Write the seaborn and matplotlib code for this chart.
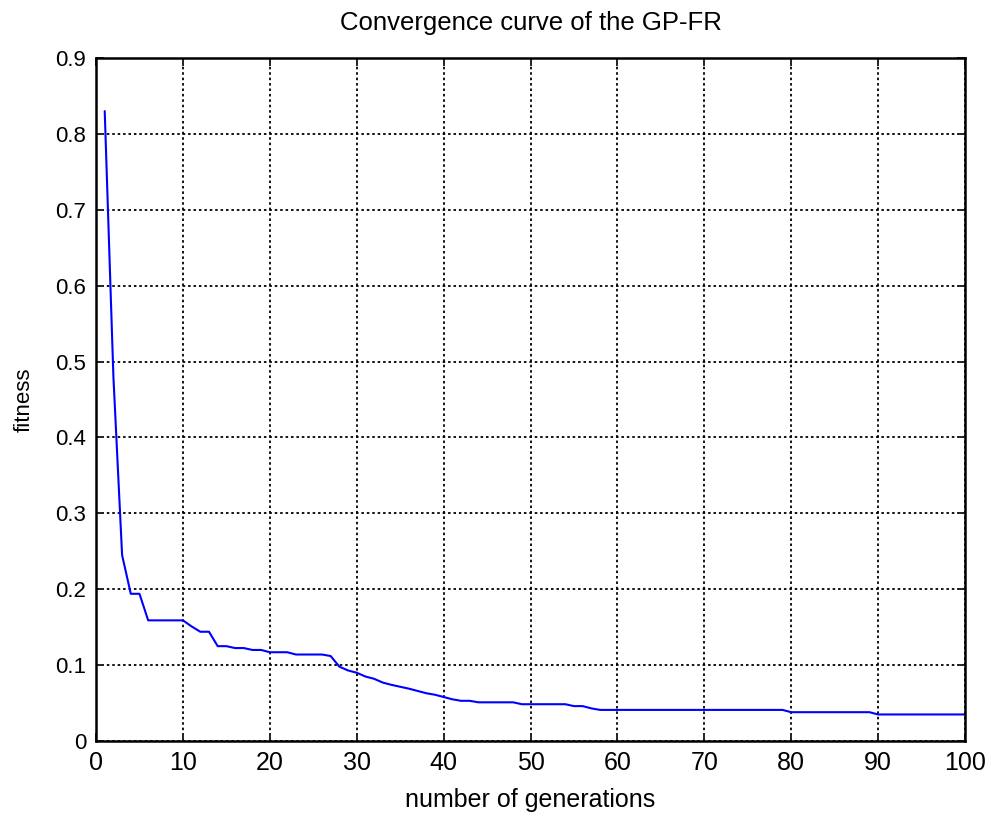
import pandas as pd
import matplotlib
matplotlib.use("Agg")
import matplotlib.pyplot as plt
import seaborn as sns

# Best fitness per generation
generations = list(range(1, 101))
fitness = [
    0.830, 0.480, 0.245, 0.194, 0.194, 0.159, 0.159, 0.159, 0.159, 0.159,
    0.151, 0.144, 0.144, 0.125, 0.125, 0.1225, 0.1225, 0.120, 0.120, 0.117,
    0.117, 0.117, 0.114, 0.114, 0.114, 0.114, 0.112, 0.098, 0.093, 0.090,
    0.085, 0.082, 0.077, 0.074, 0.0715, 0.069, 0.066, 0.063, 0.061, 0.058,
    0.055, 0.053, 0.053, 0.051, 0.051, 0.051, 0.051, 0.051, 0.0485, 0.0485,
    0.0485, 0.0485, 0.0485, 0.0485, 0.046, 0.046, 0.043, 0.041, 0.041, 0.041,
    0.041, 0.041, 0.041, 0.041, 0.041, 0.041, 0.041, 0.041, 0.041, 0.041,
    0.041, 0.041, 0.041, 0.041, 0.041, 0.041, 0.041, 0.041, 0.041, 0.038,
    0.038, 0.038, 0.038, 0.038, 0.038, 0.038, 0.038, 0.038, 0.038, 0.035,
    0.035, 0.035, 0.035, 0.035, 0.035, 0.035, 0.035, 0.035, 0.035, 0.035,
]
x_ticks = list(range(0, 101, 10))
y_ticks = [0, 0.1, 0.2, 0.3, 0.4, 0.5, 0.6, 0.7, 0.8, 0.9]
y_tick_labels = ["0", "0.1", "0.2", "0.3", "0.4", "0.5", "0.6", "0.7", "0.8", "0.9"]


def convergence_curve(gens, fit):
    data = pd.DataFrame({"generation": gens, "fitness": fit})

    sns.set_style("white")
    plt.rcParams["font.family"] = ["Liberation Sans", "DejaVu Sans"]

    fig = plt.figure(figsize=(9.91, 8.18), dpi=100)
    ax = fig.add_axes([0.0969, 0.0941, 0.8769, 0.8350])
    sns.lineplot(data=data, x="generation", y="fitness", color="#0000ff",
                 linewidth=1.5, ax=ax)

    ax.set_xlim(0, 100)
    ax.set_ylim(0, 0.9)
    ax.set_xticks(x_ticks)
    ax.set_xticklabels([str(t) for t in x_ticks])
    ax.set_yticks(y_ticks)
    ax.set_yticklabels(y_tick_labels)

    # MATLAB-like look: dotted grid, boxed axes, ticks pointing in
    ax.grid(True, color="black", linestyle=(0, (1.4, 1.6)), linewidth=1.3)
    for side in ["left", "right", "top", "bottom"]:
        ax.spines[side].set_visible(True)
        ax.spines[side].set_color("black")
        ax.spines[side].set_linewidth(1.8)
    ax.tick_params(direction="in", length=6, width=1.4,
                   top=True, right=True, bottom=True, left=True)
    ax.tick_params(axis="x", labelsize=18, pad=7.5)
    ax.tick_params(axis="y", labelsize=16, pad=7)
    for lab in ax.get_xticklabels() + ax.get_yticklabels():
        lab.set_color("black")

    ax.set_xlabel("number of generations", fontsize=18, labelpad=9,
                  color="black")
    ax.set_ylabel("fitness", fontsize=16, labelpad=15, color="black",
                  family=["Liberation Sans Narrow", "Liberation Sans"])
    ax.set_title("Convergence curve of the GP-FR", fontsize=18.5, pad=20,
                 color="black")

    fig.savefig("out.png", dpi=100)


if __name__ == "__main__":
    convergence_curve(generations, fitness)
